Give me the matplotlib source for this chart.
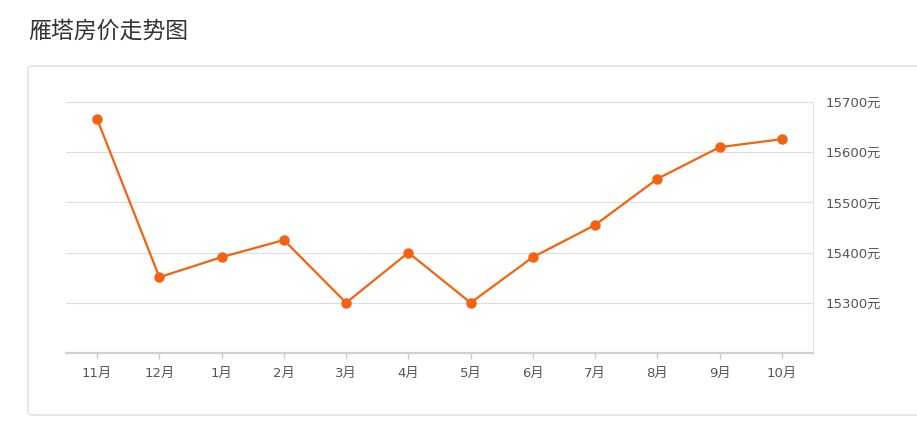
import matplotlib.pyplot as plt
from matplotlib.patches import FancyBboxPatch

plt.rcParams['font.family'] = ['Noto Sans CJK SC', 'DejaVu Sans']

months = ['11月', '12月', '1月', '2月', '3月', '4月', '5月', '6月', '7月', '8月', '9月', '10月']
prices = [15666, 15351, 15391, 15425, 15300, 15400, 15300, 15391, 15455, 15547, 15610, 15626]
y_ticks = [15300, 15400, 15500, 15600, 15700]
y_labels = ['15300元', '15400元', '15500元', '15600元', '15700元']

# wide digits first, CJK glyphs fall back to Noto
tick_font = ['DejaVu Sans', 'Noto Sans CJK SC']

W, H = 917, 423
fig = plt.figure(figsize=(W / 100, H / 100), dpi=100)

# outer card, kept behind the axes
card = FancyBboxPatch((28 / W, 1 - 415 / H), (W + 10 - 28) / W, (415 - 66) / H,
                      boxstyle='round,pad=0,rounding_size=0.006',
                      transform=fig.transFigure, facecolor='white',
                      edgecolor='#dddddd', linewidth=1, zorder=-1)
fig.patches.append(card)

fig.text(28 / W, 1 - 31 / H, '雁塔房价走势图', fontsize=16.5, color='#333333',
         va='center', ha='left')

ax = fig.add_axes([66 / W, 1 - 353 / H, (813 - 66) / W, (353 - 102) / H])
ax.set_facecolor('none')
ax.set_zorder(2)

x = list(range(len(months)))
ax.plot(x, prices, color='#f5620f', linewidth=1.6, marker='o', markersize=6.5,
        zorder=3)

ax.set_xlim(-0.5, len(months) - 0.5)
ax.set_ylim(15200, 15700)
ax.set_xticks(x)
ax.set_xticklabels(months, fontsize=9.5, color='#555555', family=tick_font)
ax.set_yticks(y_ticks)
ax.set_yticklabels(y_labels, fontsize=9.5, color='#555555', family=tick_font)
ax.yaxis.tick_right()
ax.tick_params(axis='y', length=0, pad=9)
ax.tick_params(axis='x', length=4, width=1, color='#cccccc', pad=6)

ax.grid(axis='y', color='#dddddd', linewidth=0.8)
ax.set_axisbelow(True)

for side in ['left', 'top']:
    ax.spines[side].set_visible(False)
ax.spines['right'].set_color('#e3e3e3')
ax.spines['right'].set_linewidth(0.8)
ax.spines['bottom'].set_color('#d0d0d0')
ax.spines['bottom'].set_linewidth(1.6)

plt.savefig('out.png', dpi=100)
